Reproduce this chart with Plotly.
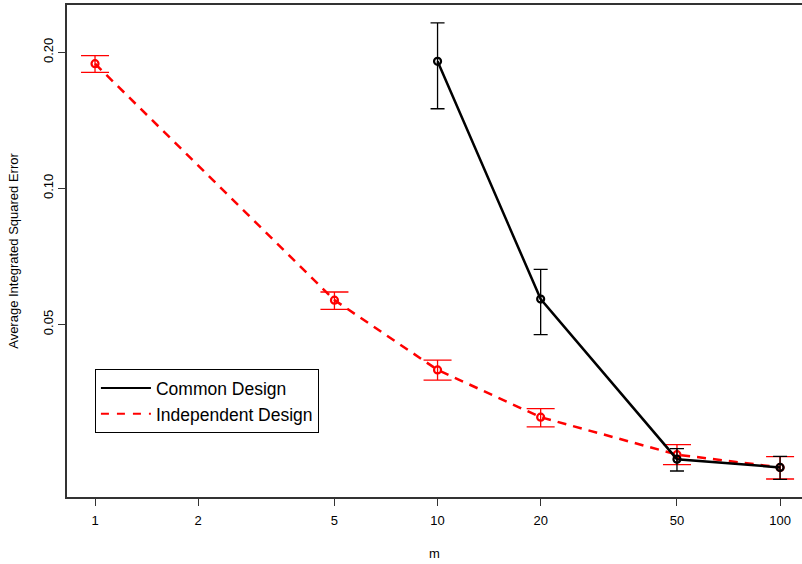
import plotly.graph_objects as go

m_common = [10, 20, 50, 100]
ise_common = [0.1910, 0.0569, 0.02518, 0.02415]
hi_common = [0.2322, 0.0662, 0.02658, 0.02555]
lo_common = [0.1500, 0.0475, 0.02371, 0.02273]

m_indep = [1, 5, 10, 20, 50, 100]
ise_indep = [0.1887, 0.0566, 0.03968, 0.03118, 0.02577, 0.02415]
hi_indep = [0.1966, 0.0590, 0.04168, 0.03258, 0.02713, 0.02551]
lo_indep = [0.1806, 0.0540, 0.03765, 0.02968, 0.02449, 0.02276]

x_ticks = [1, 2, 5, 10, 20, 50, 100]
y_ticks = [0.05, 0.10, 0.20]
y_ticktext = ["0.05", "0.10", "0.20"]

FONT = "Liberation Sans, Arial, sans-serif"

fig = go.Figure()

fig.add_trace(go.Scatter(
    x=m_indep, y=ise_indep, mode="lines+markers", showlegend=False,
    line=dict(color="red", width=2.5, dash="9px,7px"),
    marker=dict(symbol="circle-open", size=7, color="red", line=dict(width=2.2, color="red")),
    error_y=dict(type="data", symmetric=False,
                 array=[h - v for h, v in zip(hi_indep, ise_indep)],
                 arrayminus=[v - l for l, v in zip(lo_indep, ise_indep)],
                 color="red", thickness=1.3, width=14),
))
fig.add_trace(go.Scatter(
    x=m_common, y=ise_common, mode="lines+markers", showlegend=False,
    line=dict(color="black", width=2.5),
    marker=dict(symbol="circle-open", size=7, color="black", line=dict(width=2.2, color="black")),
    error_y=dict(type="data", symmetric=False,
                 array=[h - v for h, v in zip(hi_common, ise_common)],
                 arrayminus=[v - l for l, v in zip(lo_common, ise_common)],
                 color="black", thickness=1.3, width=7),
))

# legend-only traces
fig.add_trace(go.Scatter(x=[None], y=[None], mode="lines", name="Common Design",
                         line=dict(color="black", width=2)))
fig.add_trace(go.Scatter(x=[None], y=[None], mode="lines", name="Independent Design",
                         line=dict(color="red", width=2, dash="8px,8px")))

fig.update_layout(
    width=802, height=564,
    margin=dict(l=67, r=0, t=5, b=67),
    paper_bgcolor="white", plot_bgcolor="white",
    font=dict(family=FONT, size=13, color="black"),
    legend=dict(x=0.038, y=0.26, xanchor="left", yanchor="top",
                bgcolor="white", bordercolor="black", borderwidth=1,
                font=dict(size=17.5, family=FONT), itemwidth=50,
                tracegroupgap=0),
    xaxis=dict(type="log", range=[-0.0818, 2.064], tickmode="array", tickvals=x_ticks,
               ticktext=[str(v) for v in x_ticks],
               showgrid=False, zeroline=False, showline=True, linecolor="#333", linewidth=1.5,
               mirror=True, ticks="outside", ticklen=7, tickcolor="#333",
               tickfont=dict(size=13), ticklabelstandoff=4,
               title=dict(text="m", font=dict(size=13), standoff=22)),
    yaxis=dict(type="log", range=[-1.6826, -0.5944], tickmode="array", tickvals=y_ticks,
               ticktext=y_ticktext, tickangle=-90,
               showgrid=False, zeroline=False, showline=True, linecolor="#333", linewidth=1.5,
               ticks="outside", ticklen=7, tickcolor="#333",
               tickfont=dict(size=13),
               title=dict(text="Average Integrated Squared Error", font=dict(size=13), standoff=19)),
)

fig.write_html("out.html", config={"displayModeBar": False},
               post_script="document.body.style.margin='0';document.body.style.padding='0';")
